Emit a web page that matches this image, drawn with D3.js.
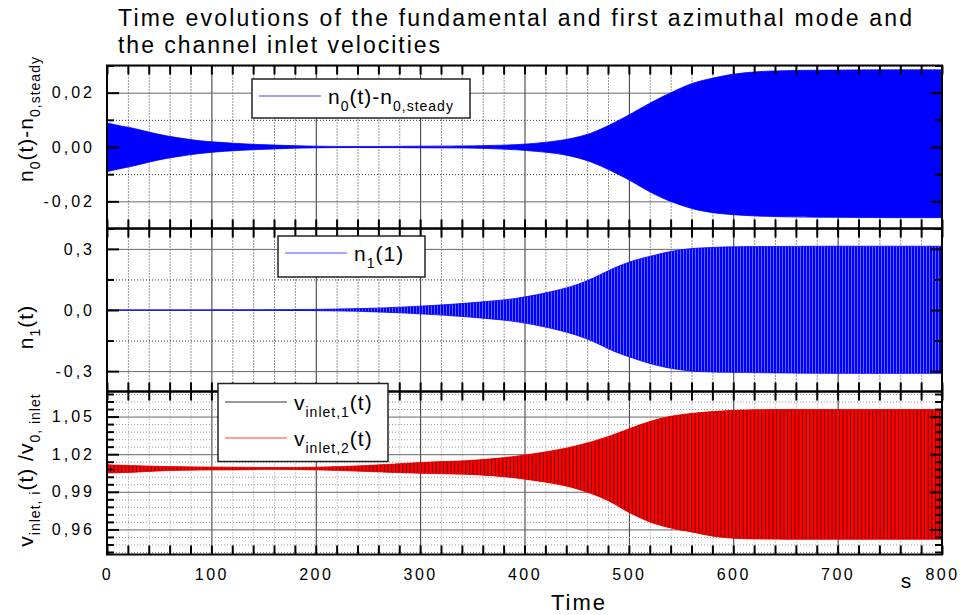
<!DOCTYPE html>
<html>
<head>
<meta charset="utf-8">
<script src="https://cdn.jsdelivr.net/npm/d3@7"></script>
<style>
  body { margin: 0; background: #fff; }
  svg { display: block; font-family: Arial, 'Liberation Sans', sans-serif; }
</style>
</head>
<body>
<svg id="chart" width="960" height="615"></svg>
<script>
// values: upper / lower envelope of each oscillating signal

// n0(t) - n0,steady
const n0Time  = [0, 10, 25, 40, 57, 75, 89, 105, 121, 140, 169, 200, 250, 300, 358, 402, 440, 463, 482, 501, 520, 536, 560, 581, 600, 623, 650, 700, 750, 800];
const n0Upper = [0.0089, 0.0080, 0.0069, 0.0055, 0.0041, 0.0030, 0.0023, 0.0018, 0.0014, 0.0010, 0.0006, 0.0003, 0.0002, 0.0003, 0.0005, 0.0011, 0.0028, 0.0050, 0.0082, 0.0120, 0.0161, 0.0192, 0.0233, 0.0254, 0.0268, 0.0277, 0.0281, 0.0283, 0.0284, 0.0284];
const n0Lower = [-0.0091, -0.0082, -0.0070, -0.0056, -0.0042, -0.0031, -0.0024, -0.0018, -0.0014, -0.0010, -0.0006, -0.0003, -0.0002, -0.0003, -0.0005, -0.0013, -0.0030, -0.0054, -0.0086, -0.0123, -0.0165, -0.0194, -0.0226, -0.0242, -0.0249, -0.0254, -0.0257, -0.0259, -0.0260, -0.0260];

// n1(t)
const n1Time  = [0, 100, 150, 200, 250, 281, 300, 330, 360, 393, 429, 450, 466, 485, 505, 524, 540, 559, 580, 600, 650, 700, 800];
const n1Upper = [0.0003, 0.0005, 0.001, 0.003, 0.008, 0.014, 0.019, 0.028, 0.040, 0.058, 0.094, 0.124, 0.157, 0.204, 0.243, 0.268, 0.287, 0.301, 0.307, 0.310, 0.312, 0.313, 0.313];
const n1Lower = [-0.0003, -0.0005, -0.001, -0.003, -0.008, -0.014, -0.019, -0.028, -0.040, -0.058, -0.094, -0.124, -0.155, -0.201, -0.238, -0.268, -0.286, -0.299, -0.304, -0.306, -0.309, -0.311, -0.311];

// v_inlet,1(t) and v_inlet,2(t), divided by v_0,inlet
const vTime   = [0, 1, 12, 30, 57, 90, 121, 160, 200, 250, 300, 357, 401, 453, 480, 501, 520, 540, 560, 581, 613, 650, 700, 800];
const v1Upper = [1.0115, 1.0115, 1.0112, 1.0108, 1.0101, 1.0098, 1.0096, 1.0093, 1.0096, 1.0110, 1.0133, 1.0155, 1.0194, 1.0274, 1.0340, 1.0405, 1.0460, 1.0502, 1.0525, 1.0540, 1.0553, 1.0556, 1.0556, 1.0556];
const v1Lower = [1.0049, 1.0050, 1.0052, 1.0058, 1.0069, 1.0074, 1.0075, 1.0079, 1.0075, 1.0062, 1.0048, 1.0035, 1.0000, 0.9916, 0.9830, 0.9732, 0.9660, 0.9612, 0.9580, 0.9546, 0.9525, 0.9522, 0.9522, 0.9522];
const v2Upper = [1.0340, 1.0115, 1.0112, 1.0108, 1.0101, 1.0098, 1.0096, 1.0093, 1.0096, 1.0110, 1.0133, 1.0155, 1.0194, 1.0274, 1.0340, 1.0405, 1.0460, 1.0502, 1.0525, 1.0540, 1.0553, 1.0556, 1.0556, 1.0556];
const v2Lower = [1.0049, 1.0050, 1.0052, 1.0058, 1.0069, 1.0074, 1.0075, 1.0079, 1.0075, 1.0062, 1.0048, 1.0035, 1.0000, 0.9916, 0.9830, 0.9732, 0.9660, 0.9612, 0.9580, 0.9546, 0.9525, 0.9522, 0.9522, 0.9522];

// axis ticks
const timeTicks = [0, 100, 200, 300, 400, 500, 600, 700, 800];
const n0Ticks = [-0.02, 0, 0.02];
const n0Minor = [-0.03, -0.01, 0.01, 0.03];
const n1Ticks = [-0.3, 0, 0.3];
const n1Minor = [-0.15, 0.15];
const vTicks = [0.96, 0.99, 1.02, 1.05];

const svg = d3.select('#chart');
svg.append('rect').attr('width', 960).attr('height', 615).attr('fill', '#fff');

const defs = svg.append('defs');
const stripeBlue = defs.append('pattern')
  .attr('id', 'stripeBlue').attr('patternUnits', 'userSpaceOnUse')
  .attr('width', 3).attr('height', 10);
stripeBlue.append('rect').attr('width', 3).attr('height', 10).attr('fill', '#6262ff');
stripeBlue.append('rect').attr('width', 2).attr('height', 10).attr('fill', '#0000ff');

const stripeRed = defs.append('pattern')
  .attr('id', 'stripeRed').attr('patternUnits', 'userSpaceOnUse')
  .attr('width', 3.7).attr('height', 10);
stripeRed.append('rect').attr('width', 3.1).attr('height', 10).attr('fill', '#ff0000');

const locale = d3.formatLocale({ decimal: ',', thousands: '.', grouping: [3], currency: ['', ''], minus: '-' });

const left = 107, right = 942, panelH = 163;
const x = d3.scaleLinear().domain([0, 800]).range([left, right]);
const minorTime = d3.range(20, 800, 20).filter(t => t % 100 !== 0);
const allTime = d3.range(0, 801, 20);

const panels = [
  { top: 65.5, domain: [-0.03, 0.03], ticks: n0Ticks, minor: n0Minor, fmt: locale.format('.2f'), gridColor: '#333' },
  { top: 228.5, domain: [-0.4, 0.4], ticks: n1Ticks, minor: n1Minor, fmt: locale.format('.1f'), gridColor: '#333' },
  { top: 391.5, domain: [0.94, 1.07], ticks: vTicks,
    minor: d3.range(0.942, 1.069, 0.006).filter(v => !vTicks.some(t => Math.abs(t - v) < 1e-4)),
    fmt: locale.format('.2f'), gridColor: '#999' },
];

panels.forEach((p, i) => {
  p.y = d3.scaleLinear().domain(p.domain).range([p.top + panelH, p.top]);
  p.g = svg.append('g').attr('id', 'panel' + i);
  defs.append('clipPath').attr('id', 'clip' + i)
    .append('rect').attr('x', left).attr('y', p.top).attr('width', right - left).attr('height', panelH);
});

// gridlines
panels.forEach((p) => {
  const grid = p.g.append('g').attr('class', 'grid');
  const vMinor = grid.append('g').attr('transform', `translate(0,${p.top + panelH})`)
    .call(d3.axisBottom(x).tickValues(minorTime).tickSize(-panelH).tickFormat(''));
  vMinor.selectAll('line').attr('stroke', p.gridColor).attr('stroke-dasharray', '1,2');
  const vMajor = grid.append('g').attr('transform', `translate(0,${p.top + panelH})`)
    .call(d3.axisBottom(x).tickValues(timeTicks.slice(1, -1)).tickSize(-panelH).tickFormat(''));
  vMajor.selectAll('line').attr('stroke', '#333');
  const hMinor = grid.append('g').attr('transform', `translate(${left},0)`)
    .call(d3.axisLeft(p.y).tickValues(p.minor).tickSize(-(right - left)).tickFormat(''));
  hMinor.selectAll('line').attr('stroke', p.gridColor).attr('stroke-dasharray', '1,2');
  const hMajor = grid.append('g').attr('transform', `translate(${left},0)`)
    .call(d3.axisLeft(p.y).tickValues(p.ticks).tickSize(-(right - left)).tickFormat(''));
  hMajor.selectAll('line').attr('stroke', '#666');
  grid.selectAll('.domain').remove();
});

// envelopes
function envelope(p, time, upper, lower, curve) {
  return d3.area()
    .x((_d, k) => x(time[k]))
    .y0((_d, k) => p.y(lower[k]))
    .y1((_d, k) => p.y(upper[k]))
    .curve(curve)(time);
}

const smooth = d3.curveCatmullRom.alpha(0.5);
const [p0, p1, p2] = panels;
p0.g.append('path').attr('clip-path', 'url(#clip0)')
  .attr('d', envelope(p0, n0Time, n0Upper, n0Lower, smooth))
  .attr('fill', '#0000ff').attr('stroke', '#0000ff').attr('stroke-width', 0.8);

p1.g.append('path').attr('clip-path', 'url(#clip1)')
  .attr('d', envelope(p1, n1Time, n1Upper, n1Lower, smooth))
  .attr('fill', 'url(#stripeBlue)').attr('stroke', '#0000ff').attr('stroke-width', 0.8);

p2.g.append('path').attr('clip-path', 'url(#clip2)')
  .attr('d', envelope(p2, vTime, v1Upper, v1Lower, d3.curveMonotoneX))
  .attr('fill', '#000');
p2.g.append('path').attr('clip-path', 'url(#clip2)')
  .attr('d', envelope(p2, vTime, v2Upper, v2Lower, d3.curveMonotoneX))
  .attr('fill', 'url(#stripeRed)').attr('stroke', '#ff0000').attr('stroke-width', 0.8);

// frames and inward ticks
panels.forEach((p) => {
  const ax = p.g.append('g').attr('class', 'ticks');
  ax.append('g').attr('transform', `translate(0,${p.top})`)
    .call(d3.axisBottom(x).tickValues(allTime).tickSize(9).tickFormat(''));
  ax.append('g').attr('transform', `translate(0,${p.top + panelH})`)
    .call(d3.axisTop(x).tickValues(allTime).tickSize(9).tickFormat(''));
  ax.append('g').attr('transform', `translate(${left},0)`)
    .call(d3.axisRight(p.y).tickValues(p.ticks).tickSize(12).tickFormat(''));
  ax.append('g').attr('transform', `translate(${left},0)`)
    .call(d3.axisRight(p.y).tickValues(p.minor).tickSize(7).tickFormat(''));
  ax.append('g').attr('transform', `translate(${right},0)`)
    .call(d3.axisLeft(p.y).tickValues(p.ticks).tickSize(12).tickFormat(''));
  ax.append('g').attr('transform', `translate(${right},0)`)
    .call(d3.axisLeft(p.y).tickValues(p.minor).tickSize(7).tickFormat(''));
  ax.selectAll('.domain').remove();
  ax.selectAll('line').attr('stroke', '#000').attr('stroke-width', 2);

  p.g.append('rect')
    .attr('x', left).attr('y', p.top).attr('width', right - left).attr('height', panelH)
    .attr('fill', 'none').attr('stroke', '#000').attr('stroke-width', 2);

  // y tick labels
  const lab = p.g.append('g').attr('transform', `translate(${left},0)`)
    .call(d3.axisLeft(p.y).tickValues(p.ticks).tickSize(0).tickPadding(12).tickFormat(p.fmt));
  lab.select('.domain').remove();
  lab.selectAll('text').attr('font-size', 16).attr('letter-spacing', 3).attr('fill', '#000')
    .attr('font-family', null);
});

// x tick labels
const xLab = svg.append('g').attr('transform', `translate(0,${p2.top + panelH})`)
  .call(d3.axisBottom(x).tickValues(timeTicks).tickSize(0).tickPadding(14));
xLab.select('.domain').remove();
xLab.selectAll('text').attr('font-size', 16).attr('letter-spacing', 2.5).attr('dx', 0)
  .attr('fill', '#000').attr('font-family', null);

// titles
const title = svg.append('g').attr('font-size', 23).attr('fill', '#000');
title.append('text').attr('x', 118).attr('y', 26).attr('textLength', 794).attr('lengthAdjust', 'spacing')
  .text('Time evolutions of the fundamental and first azimuthal mode and');
title.append('text').attr('x', 118).attr('y', 53).attr('textLength', 322).attr('lengthAdjust', 'spacing')
  .text('the channel inlet velocities');

svg.append('text').attr('x', 579).attr('y', 610).attr('text-anchor', 'middle')
  .attr('font-size', 22).attr('letter-spacing', 2).text('Time');
svg.append('text').attr('x', 906).attr('y', 588).attr('text-anchor', 'middle')
  .attr('font-size', 21).text('s');

// text with subscripts, parts: [text, isSubscript]
function richText(sel, parts, big, small, shift) {
  let offset = 0;
  parts.forEach(([str, sub]) => {
    const target = sub ? shift : 0;
    sel.append('tspan')
      .attr('font-size', sub ? small : big)
      .attr('dy', target - offset)
      .text(str);
    offset = target;
  });
}

function yTitle(cx, cy, parts) {
  const t = svg.append('text')
    .attr('transform', `translate(${cx},${cy}) rotate(-90)`)
    .attr('text-anchor', 'middle').attr('font-size', 21).attr('letter-spacing', 1);
  richText(t, parts, 21, 14, 7);
}

yTitle(33, 119, [['n'], ['0', true], ['(t)-n'], ['0,steady', true]]);
yTitle(33, 327, [['n'], ['1', true], ['(t)']]);
yTitle(33, 470, [['v'], ['inlet, i', true], ['(t) /v'], ['0, inlet', true]]);

// legends
function legend(box, rows) {
  const g = svg.append('g');
  g.append('rect').attr('x', box.x).attr('y', box.y).attr('width', box.w).attr('height', box.h)
    .attr('fill', '#fff').attr('stroke', '#222').attr('stroke-width', 1.5);
  rows.forEach((r) => {
    g.append('line').attr('x1', box.x + 7).attr('x2', box.x + 69)
      .attr('y1', r.y).attr('y2', r.y).attr('stroke', r.color).attr('stroke-width', 1.2);
    const t = g.append('text').attr('x', box.x + 76).attr('y', r.y + 8)
      .attr('font-size', 21).attr('letter-spacing', 1);
    richText(t, r.parts, 21, 14, 7);
  });
}

legend({ x: 252, y: 79, w: 218, h: 39 },
  [{ y: 96, color: '#4848ff', parts: [['n'], ['0', true], ['(t)-n'], ['0,steady', true]] }]);
legend({ x: 278, y: 236, w: 147, h: 41 },
  [{ y: 253, color: '#4848ff', parts: [['n'], ['1', true], ['(1)']] }]);
legend({ x: 218, y: 383.5, w: 170, h: 78 }, [
  { y: 402, color: '#333', parts: [['v'], ['inlet,1', true], ['(t)']] },
  { y: 438, color: '#ff4040', parts: [['v'], ['inlet,2', true], ['(t)']] },
]);
</script>
</body>
</html>
